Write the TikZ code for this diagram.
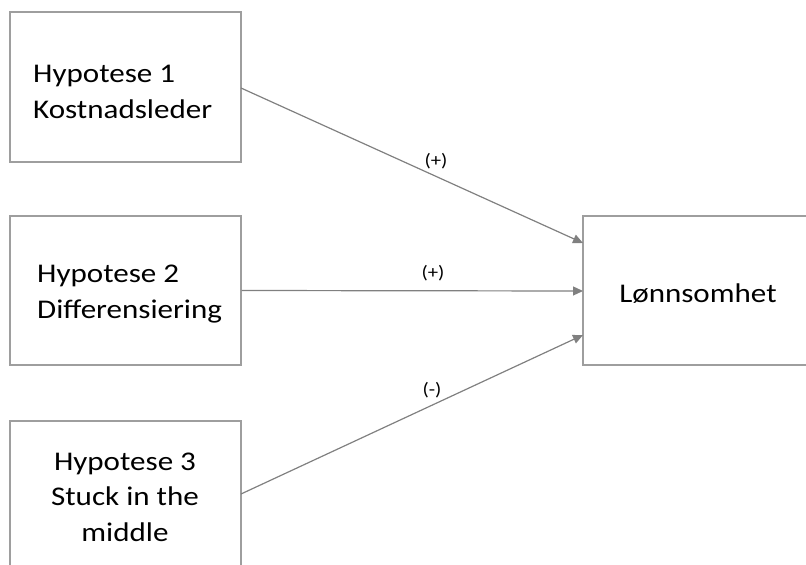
\documentclass[tikz,border=0pt]{standalone}
\usepackage{fontspec}
\setmainfont[FakeStretch=1.15]{Carlito}
\usetikzlibrary{arrows.meta}
\begin{document}
\begin{tikzpicture}[x=1pt,y=-1pt,
  box/.style={draw=black!38, line width=1.3pt, inner sep=0pt},
  boxtext/.style={font=\fontsize{27}{35.5}\selectfont, text=black, inner sep=0pt},
  link/.style={draw=black!50, line width=1.2pt, -{Triangle[length=10pt,width=9pt]}},
  sign/.style={font=\fontsize{18}{20}\selectfont, text=black, inner sep=0pt}]
\useasboundingbox (0,0) rectangle (806,565);
% hypothesis boxes
\node[box, minimum width=231pt, minimum height=150pt] (h1) at (125.5,87) {};
\node[box, minimum width=231pt, minimum height=149pt] (h2) at (125.5,290.5) {};
\draw[draw=black!38, line width=1.3pt] (10,580) -- (10,421) -- (241,421) -- (241,580);
\coordinate (h3) at (241,494);
% outcome box
\draw[draw=black!38, line width=1.3pt] (820,216) -- (583,216) -- (583,365) -- (820,365);
\coordinate (in1) at (583,243);
\coordinate (in2) at (583,291);
\coordinate (in3) at (583,335);
% texts
\node[boxtext, align=left, anchor=west] (t1) at (33,92) {Hypotese 1\\Kostnadsleder};
\node[boxtext, align=left, anchor=west] (t2) at (37,294) {Hypotese 2\\Differensiering};
\node[boxtext, align=center] (t3) at (125,497) {Hypotese 3\\Stuck in the\\middle};
\node[boxtext] (out) at (698,294) {Lønnsomhet};
% connectors
\draw[link] (241,88) -- (in1);
\draw[link] (h2.east) -- (in2);
\draw[link] (h3) -- (in3);
% signs
\node[sign] (s1) at (436,161) {(+)};
\node[sign] (s2) at (433,273) {(+)};
\node[sign] (s3) at (432,390) {(-)};
\end{tikzpicture}
\end{document}
